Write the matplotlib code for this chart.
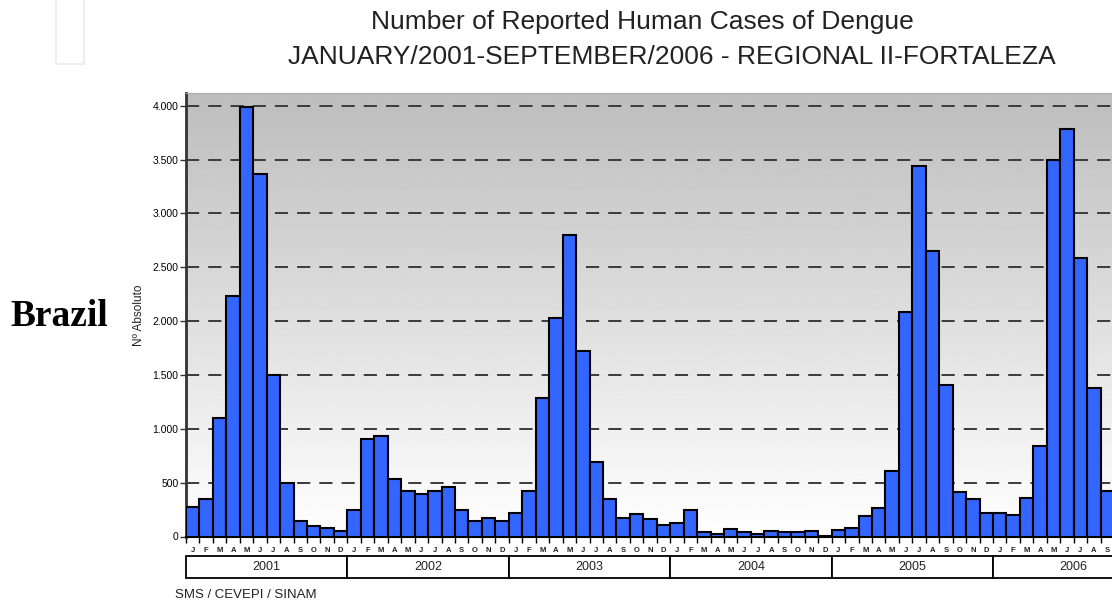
import numpy as np
import matplotlib
matplotlib.use("Agg")
import matplotlib.pyplot as plt
from matplotlib.patches import Rectangle
from matplotlib.transforms import blended_transform_factory

plt.rcParams['font.family'] = ['Liberation Sans', 'DejaVu Sans']
plt.rcParams['lines.scale_dashes'] = False

# monthly reported cases, Jan/2001 - Sep/2006
cases_2001 = [270, 345, 1100, 2230, 3990, 3370, 1500, 494, 147, 97, 76, 48]
cases_2002 = [246, 905, 936, 534, 422, 395, 422, 463, 246, 144, 175, 148]
cases_2003 = [221, 422, 1283, 2032, 2799, 1725, 689, 345, 175, 206, 162, 103]
cases_2004 = [122, 246, 45, 23, 67, 39, 23, 51, 39, 39, 51, 8]
cases_2005 = [60, 82, 190, 262, 608, 2088, 3440, 2654, 1407, 410, 345, 215]
cases_2006 = [215, 200, 360, 840, 3496, 3784, 2583, 1382, 425]

years = ["2001", "2002", "2003", "2004", "2005", "2006"]
month_letters = ["J", "F", "M", "A", "M", "J", "J", "A", "S", "O", "N", "D"]
y_ticks = [0, 500, 1000, 1500, 2000, 2500, 3000, 3500, 4000]
y_ticklabels = ["0", "500", "1.000", "1.500", "2.000", "2.500", "3.000", "3.500", "4.000"]

values = cases_2001 + cases_2002 + cases_2003 + cases_2004 + cases_2005 + cases_2006
x = np.arange(len(values))
n = len(values)

fig = plt.figure(figsize=(11.12, 6.04), dpi=100)
W, H = 1112, 604
# plot area in pixels
left_px, top_px, bot_px = 186, 93, 536.5
right_px = left_px + n * 13.45
ax = fig.add_axes([left_px / W, 1 - bot_px / H, (right_px - left_px) / W, (bot_px - top_px) / H])

ymax = 4118
ax.set_xlim(-0.5, n - 0.5)

# grey-to-white background (white at bottom)
grad = np.linspace(1.0, 0.74, 256).reshape(-1, 1)
ax.imshow(grad, extent=[-0.5, n - 0.5, 0, ymax], aspect='auto',
          cmap='gray', vmin=0, vmax=1, zorder=0, origin='lower')
ax.set_ylim(0, ymax)

for yv in y_ticks[1:]:
    ax.axhline(yv, color='#3a3a3a', lw=1.4, dashes=(9.5, 6.5), zorder=1)

ax.bar(x, values, width=1.0, color='#3366ff', edgecolor='black', linewidth=1.5, zorder=3)

ax.set_yticks(y_ticks)
ax.set_yticklabels(y_ticklabels, fontsize=7.5)
ax.tick_params(axis='y', length=4, width=1, pad=1.5, color='#333333')
ax.set_xticks(np.arange(-0.5, n, 1.0))
ax.set_xticklabels([])
ax.tick_params(axis='x', length=4, width=1, color='black')

ax.spines['right'].set_visible(False)
ax.spines['top'].set_color('#aaaaaa')
ax.spines['left'].set_color('#333333')
ax.spines['left'].set_linewidth(2)
ax.spines['bottom'].set_linewidth(1.5)

ax.set_ylabel("Nº Absoluto", fontsize=8.5, labelpad=5, color='#222222')

# month letters and year boxes under the axis
tr = blended_transform_factory(ax.transData, fig.transFigure)
for i in range(n):
    ax.text(i, 1 - 550 / H, month_letters[i % 12], transform=tr, fontsize=5.5,
            ha='center', va='center', fontweight='bold', color='#222222', clip_on=False)

box_bot, box_top = 1 - 578 / H, 1 - 556 / H
for k, yr in enumerate(years):
    x0 = k * 12 - 0.5
    rect = Rectangle((x0, box_bot), 12, box_top - box_bot, transform=tr,
                     facecolor='white', edgecolor='black', lw=1.3, clip_on=False, zorder=4)
    ax.add_patch(rect)
    ax.text(x0 + 6, (box_bot + box_top) / 2, yr, transform=tr, fontsize=9,
            ha='center', va='center', clip_on=False, zorder=5, color='#222222')

fig.text(175 / W, 1 - 595 / H, "SMS / CEVEPI / SINAM", fontsize=9.5, ha='left', va='center',
         color='#222222')

fig.text(642 / W, 1 - 22 / H, "Number of Reported Human Cases of Dengue",
         fontsize=19, ha='center', va='center', color='#222222')
fig.text(672 / W, 1 - 57 / H, "JANUARY/2001-SEPTEMBER/2006 - REGIONAL II-FORTALEZA",
         fontsize=19, ha='center', va='center', color='#222222')

fig.text(10 / W, 1 - 317 / H, "Brazil", fontsize=27, fontweight='bold',
         family=['Liberation Serif', 'DejaVu Serif'], ha='left', va='center')

# faint frame at top left
fig.add_artist(Rectangle((56 / W, 1 - 64 / H), 28 / W, 70 / H, transform=fig.transFigure,
                         facecolor='none', edgecolor='#eeeeee', lw=1.5))

fig.savefig("out.png", dpi=100)
